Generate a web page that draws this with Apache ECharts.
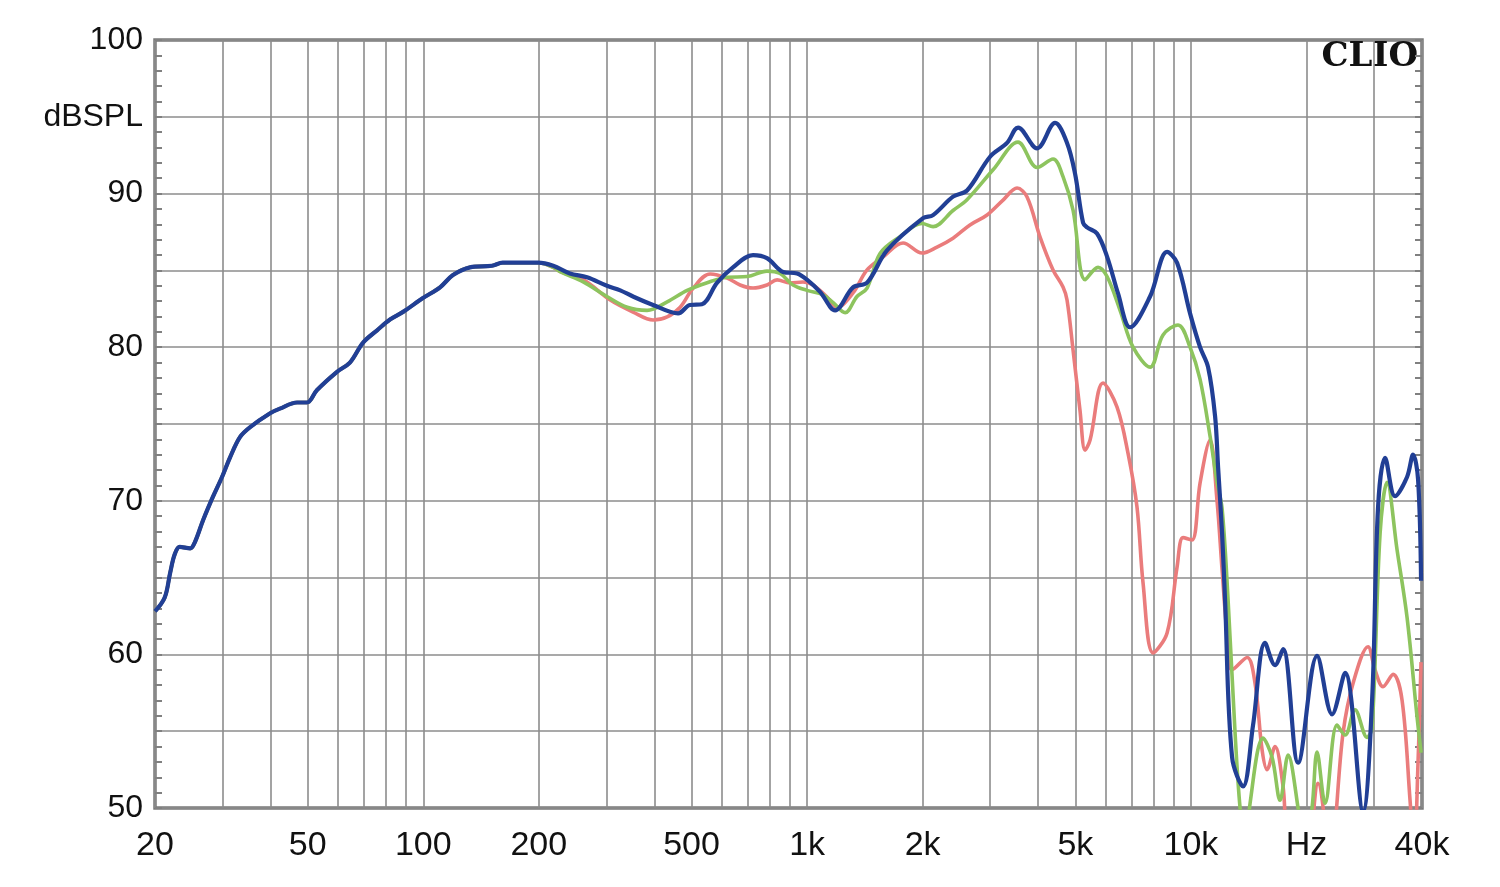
<!DOCTYPE html>
<html>
<head>
<meta charset="utf-8">
<title>CLIO frequency response</title>
<script src="https://cdn.jsdelivr.net/npm/echarts@6/dist/echarts.min.js"></script>
<style>
  html, body { margin: 0; padding: 0; background: #fff; }
  #chart { width: 1500px; height: 887px; }
</style>
</head>
<body>
<div id="chart"></div>
<script>
// grid lines (Hz) and axis labels
const xGridFreqs = [20, 30, 40, 50, 60, 70, 80, 90, 100, 200, 300, 400, 500, 600, 700, 800, 900,
  1000, 2000, 3000, 4000, 5000, 6000, 7000, 8000, 9000, 10000, 20000, 30000, 40000]
const xLabelFreqs = [20, 50, 100, 200, 500, 1000, 2000, 5000, 10000, 20000, 40000]
const xLabelText = ['20', '50', '100', '200', '500', '1k', '2k', '5k', '10k', 'Hz', '40k']

// 20 - 200 Hz, all three curves lie on top of each other
const sharedFreq = [20, 21.2, 21.9, 22.5, 23.2, 24.7, 25.4, 26.7, 28.3, 29.9, 31.4, 33.3, 35.4, 39.9, 42.3,
  46.9, 49.8, 52.8, 59.6, 64.4, 69.7, 75.8, 81.9, 88.6, 99.8, 110.6, 119.5, 132.4, 151, 161, 179, 199]
const sharedDb = [62.8, 63.7, 65.3, 66.5, 67.0, 66.9, 67.3, 68.75, 70.25, 71.55, 72.85, 74.15, 74.8, 75.7, 76.0,
  76.4, 76.4, 77.2, 78.4, 79.0, 80.3, 81.1, 81.8, 82.3, 83.2, 83.9, 84.7, 85.2, 85.3, 85.5, 85.5, 85.5]

// blue
const blueFreq = [218, 241, 267, 301, 326, 352, 397, 461, 495, 532, 583, 641, 723, 786, 866, 942, 999, 1081, 1183, 1317,
  1433, 1615, 2005, 2129, 2400, 2610, 2997, 3318, 3545, 3973, 4426, 4756, 4990, 5236, 5364, 5693, 6047, 6458, 6942, 7826,
  8668, 9204, 9948, 10564, 11084, 11560, 11770, 12056, 12274, 12802, 13674, 14518, 15600, 16564, 17380, 19020, 21316, 23326, 25216, 28090,
  29648, 30734, 32052, 34032, 36572, 37912, 39066, 39774]
const blueDb = [85.3, 84.8, 84.55, 84.0, 83.7, 83.3, 82.75, 82.2, 82.75, 82.8, 84.2, 85.2, 86.0, 85.8, 84.9, 84.8, 84.4, 83.6, 82.4, 83.9,
  84.2, 86.3, 88.4, 88.6, 89.8, 90.2, 92.4, 93.3, 94.3, 92.95, 94.6, 93.3, 91.3, 88.1, 87.8, 87.4, 85.9, 83.5, 81.3, 83.3,
  86.2, 85.5, 82.2, 80.0, 78.7, 75.5, 72.2, 67.9, 63.5, 53.3, 51.4, 55.4, 60.75, 59.3, 60.35, 52.95, 59.9, 56.1, 58.8, 49.8,
  57.0, 69.6, 72.8, 70.3, 71.55, 73.0, 71.4, 64.8]

// green
const greenFreq = [218, 228, 261, 301, 340, 383, 432, 487, 549, 619, 698, 786, 850, 919, 999, 1101, 1169, 1256, 1349, 1433,
  1549, 1747, 1993, 2129, 2400, 2610, 3051, 3545, 3973, 4373, 4643, 4932, 5300, 5728, 6047, 6537, 7068, 7826, 8460, 9258,
  9948, 10564, 11218, 11696, 12056, 12500, 13032, 13430, 13920, 14258, 15416, 16272, 17074, 17914, 19020, 19712, 20680, 21316, 22366, 24022,
  25216, 26766, 28774, 29648, 31112, 32436, 34446, 36572, 38840, 39774]
const greenDb = [85.2, 84.9, 84.25, 83.3, 82.6, 82.4, 82.95, 83.7, 84.2, 84.55, 84.6, 84.95, 84.8, 84.05, 83.7, 83.4, 82.9, 82.25, 83.3, 83.85,
  86.1, 87.2, 88.05, 87.85, 88.9, 89.6, 91.55, 93.35, 91.7, 92.25, 91.1, 88.9, 84.4, 85.2, 84.6, 82.4, 80.0, 78.7, 80.8, 81.45,
  80.0, 77.9, 74.2, 71.2, 69.5, 63.5, 54.9, 50.0, 47.0, 50.3, 54.55, 53.3, 50.5, 53.45, 50.0, 47.0, 50.0, 53.65, 50.3, 55.4,
  54.75, 56.4, 54.6, 55.2, 67.9, 71.2, 66.8, 62.4, 55.9, 53.6]

// red
const redFreq = [218, 228, 261, 307, 352, 397, 432, 467, 505, 559, 619, 669, 723, 786, 835, 902, 976, 1036, 1127, 1197,
  1317, 1433, 1577, 1778, 1993, 2180, 2400, 2657, 2944, 3240, 3524, 3742, 4046, 4373, 4643, 4756, 4932, 5140, 5300, 5461,
  5902, 6420, 6856, 7236, 7504, 7969, 8668, 9204, 9538, 10066, 10564, 11218, 11696, 12056, 12500, 12802, 14008, 14694, 15324, 15792,
  16564, 17380, 18130, 19830, 21440, 23040, 24914, 26440, 28938, 30180, 31660, 33632, 35500, 37234, 38140, 39066, 39774]
const redDb = [85.2, 84.9, 84.4, 83.07, 82.29, 81.77, 81.97, 82.6, 83.85, 84.77, 84.5, 84.05, 83.85, 84.05, 84.38, 84.18, 84.24, 84.05, 83.27, 82.6,
  83.53, 85.03, 85.87, 86.78, 86.13, 86.52, 87.1, 87.96, 88.61, 89.58, 90.36, 89.78, 87.17, 85.03, 83.92, 83.07, 79.8, 75.9, 73.3, 73.96,
  77.67, 76.1, 73.1, 69.6, 64.65, 60.1, 61.4, 65.7, 67.6, 67.45, 71.16, 73.96, 70.0, 65.5, 60.5, 59.0, 59.8, 58.1, 53.8, 52.5,
  54.0, 51.4, 47.0, 47.0, 51.6, 47.0, 54.9, 58.1, 60.5, 59.0, 57.9, 58.7, 57.0, 50.5, 47.0, 53.0, 59.5]

const chart = echarts.init(document.getElementById('chart'))
const FONT = '"Liberation Sans", Arial, sans-serif'

// x axis works on log10(f)
const toPoints = (freqs, dbs) => freqs.map((f, i) => [Math.log10(f), dbs[i]])

function xLabel(v) {
  const f = Math.pow(10, v)
  const i = xLabelFreqs.findIndex(x => Math.abs(x - f) / x < 0.01)
  return i < 0 ? '' : xLabelText[i]
}

function yLabel(v) {
  if (v % 10 === 0) return String(v)
  if (v === 95) return 'dBSPL'
  return ''
}

const tickStyle = { color: '#808080', width: 2 }

function yAxisOpt(position, showLabel) {
  return {
    type: 'value',
    position: position,
    min: 50,
    max: 100,
    interval: 5,
    axisLine: { show: false },
    axisTick: { show: true, inside: true, length: 7, lineStyle: tickStyle },
    minorTick: { show: true, splitNumber: 5, length: 7, lineStyle: tickStyle },
    splitLine: { show: showLabel, lineStyle: { color: '#8c8c8c', width: 1.6 } },
    axisLabel: {
      show: showLabel,
      formatter: yLabel,
      margin: 12,
      fontSize: 32,
      color: '#111',
      fontFamily: FONT
    }
  }
}

function lineSeries(name, data, color, width) {
  return {
    name: name,
    type: 'line',
    data: data,
    smooth: 0.35,
    showSymbol: false,
    clip: true,
    lineStyle: { color: color, width: width },
    emphasis: { disabled: true }
  }
}

const options = {
  backgroundColor: '#fff',
  animation: false,
  grid: {
    left: 155,
    right: 78,
    top: 40,
    bottom: 79,
    show: true,
    borderColor: '#7a7a7a',
    borderWidth: 3.5
  },
  xAxis: {
    type: 'value',
    min: Math.log10(20),
    max: Math.log10(40000),
    axisLine: { show: false },
    axisTick: { show: false, customValues: xGridFreqs.map(f => Math.log10(f)) },
    splitLine: { show: true, lineStyle: { color: '#8c8c8c', width: 1.6 } },
    axisLabel: {
      customValues: xLabelFreqs.map(f => Math.log10(f)),
      formatter: xLabel,
      margin: 21,
      fontSize: 34,
      color: '#111',
      fontFamily: FONT
    }
  },
  yAxis: [yAxisOpt('left', true), yAxisOpt('right', false)],
  series: [
    lineSeries('red', toPoints(sharedFreq.concat(redFreq), sharedDb.concat(redDb)), '#ea7c7c', 3.6),
    lineSeries('green', toPoints(sharedFreq.concat(greenFreq), sharedDb.concat(greenDb)), '#8dc45e', 3.6),
    lineSeries('blue', toPoints(sharedFreq.concat(blueFreq), sharedDb.concat(blueDb)), '#213f95', 4.2)
  ],
  graphic: [
    {
      type: 'text',
      right: 82,
      top: 40,
      style: {
        text: 'CLIO',
        font: 'bold 34px "DejaVu Serif", serif',
        fill: '#111'
      }
    }
  ]
}

chart.setOption(options)
</script>
</body>
</html>
